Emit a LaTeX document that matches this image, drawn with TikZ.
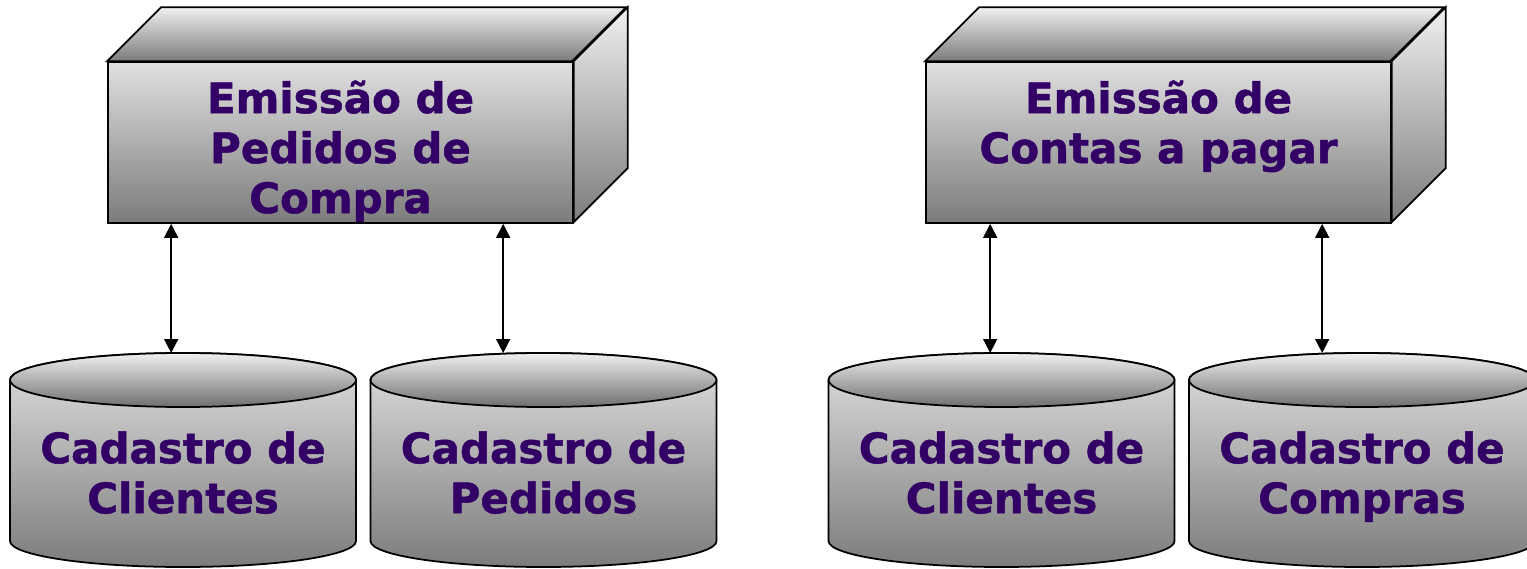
\documentclass[tikz,border=0pt]{standalone}
\usepackage{fontspec}
\setmainfont{DejaVu Sans}[BoldFeatures={FakeBold=1.2}]
\usetikzlibrary{arrows.meta,calc}
\definecolor{labelpurple}{HTML}{330066}
\definecolor{shadelight}{HTML}{F0F0F0}
\definecolor{shademid}{HTML}{E0E0E0}
\definecolor{shadedark}{HTML}{7C7C7C}
\tikzset{
  outline/.style={draw=black, line width=1pt, line join=miter},
  frontface/.style={outline, top color=shademid, bottom color=shadedark,
    minimum width=9.3cm, minimum height=3.22cm, inner sep=0pt},
  sideface/.style={outline, top color=shadelight, bottom color=shadedark},
  label/.style={text=labelpurple, align=center, inner sep=0pt,
    font=\fontsize{23.9}{28.45}\selectfont\bfseries},
  biarrow/.style={line width=0.9pt,
    {Triangle[width=0.28cm,length=0.28cm]}-{Triangle[width=0.28cm,length=0.28cm]}}
}
% 3-D process box: #1 name, #2 x of front face centre, #3 label
\newcommand\procbox[3]{%
  \node[frontface] (#1) at (#2,425.5) {};
  \path[sideface] (#1.north west) -- ++(54,54) -- ++(465,0) -- ++(-54,-54) -- cycle;
  \path[sideface] (#1.north east) -- ++(54,54) -- ++(0,-161) -- ++(-54,-54) -- cycle;
  \node[label, anchor=north] (#1text) at ($(#1.north)+(0,-19)$) {#3};
}
% database cylinder: #1 name, #2 centre x, #3 label
\newcommand\datacyl[3]{%
  \path[outline, top color=shademid, bottom color=shadedark]
    (#2-173,188) -- (#2-173,27)
    arc[start angle=180, end angle=360, x radius=173, y radius=26]
    -- (#2+173,188)
    arc[start angle=0, end angle=180, x radius=173, y radius=27] -- cycle;
  \path[outline, top color=shadelight, bottom color=shadedark!110]
    (#2,188) ellipse[x radius=173, y radius=27];
  \coordinate (#1top) at (#2,215);
  \node[label, anchor=north] (#1text) at (#2,137) {#3};
}
\begin{document}
\begin{tikzpicture}[x=0.02cm, y=0.02cm]
  \clip (0,0) rectangle (1527,568);
  \fill[white] (0,0) rectangle (1527,568);

  % left group: purchase orders
  \procbox{pedidos}{340.5}{Emissão de\\Pedidos de\\Compra}
  \datacyl{clientesA}{183}{Cadastro de\\Clientes}
  \datacyl{pedidosdb}{543.5}{Cadastro de\\Pedidos}

  % right group: accounts payable
  \procbox{contas}{1158.5}{Emissão de\\Contas a pagar}
  \datacyl{clientesB}{1001.5}{Cadastro de\\Clientes}
  \datacyl{compras}{1362}{Cadastro de\\Compras}

  % data flows between processes and stores
  \draw[biarrow] ($(pedidos.south west)+(64,0)$) coordinate (s1) -- (s1 |- clientesAtop);
  \draw[biarrow] ($(pedidos.south west)+(396,0)$) coordinate (s2) -- (s2 |- pedidosdbtop);
  \draw[biarrow] ($(contas.south west)+(65,0)$) coordinate (s3) -- (s3 |- clientesBtop);
  \draw[biarrow] ($(contas.south west)+(397,0)$) coordinate (s4) -- (s4 |- comprastop);
\end{tikzpicture}
\end{document}
